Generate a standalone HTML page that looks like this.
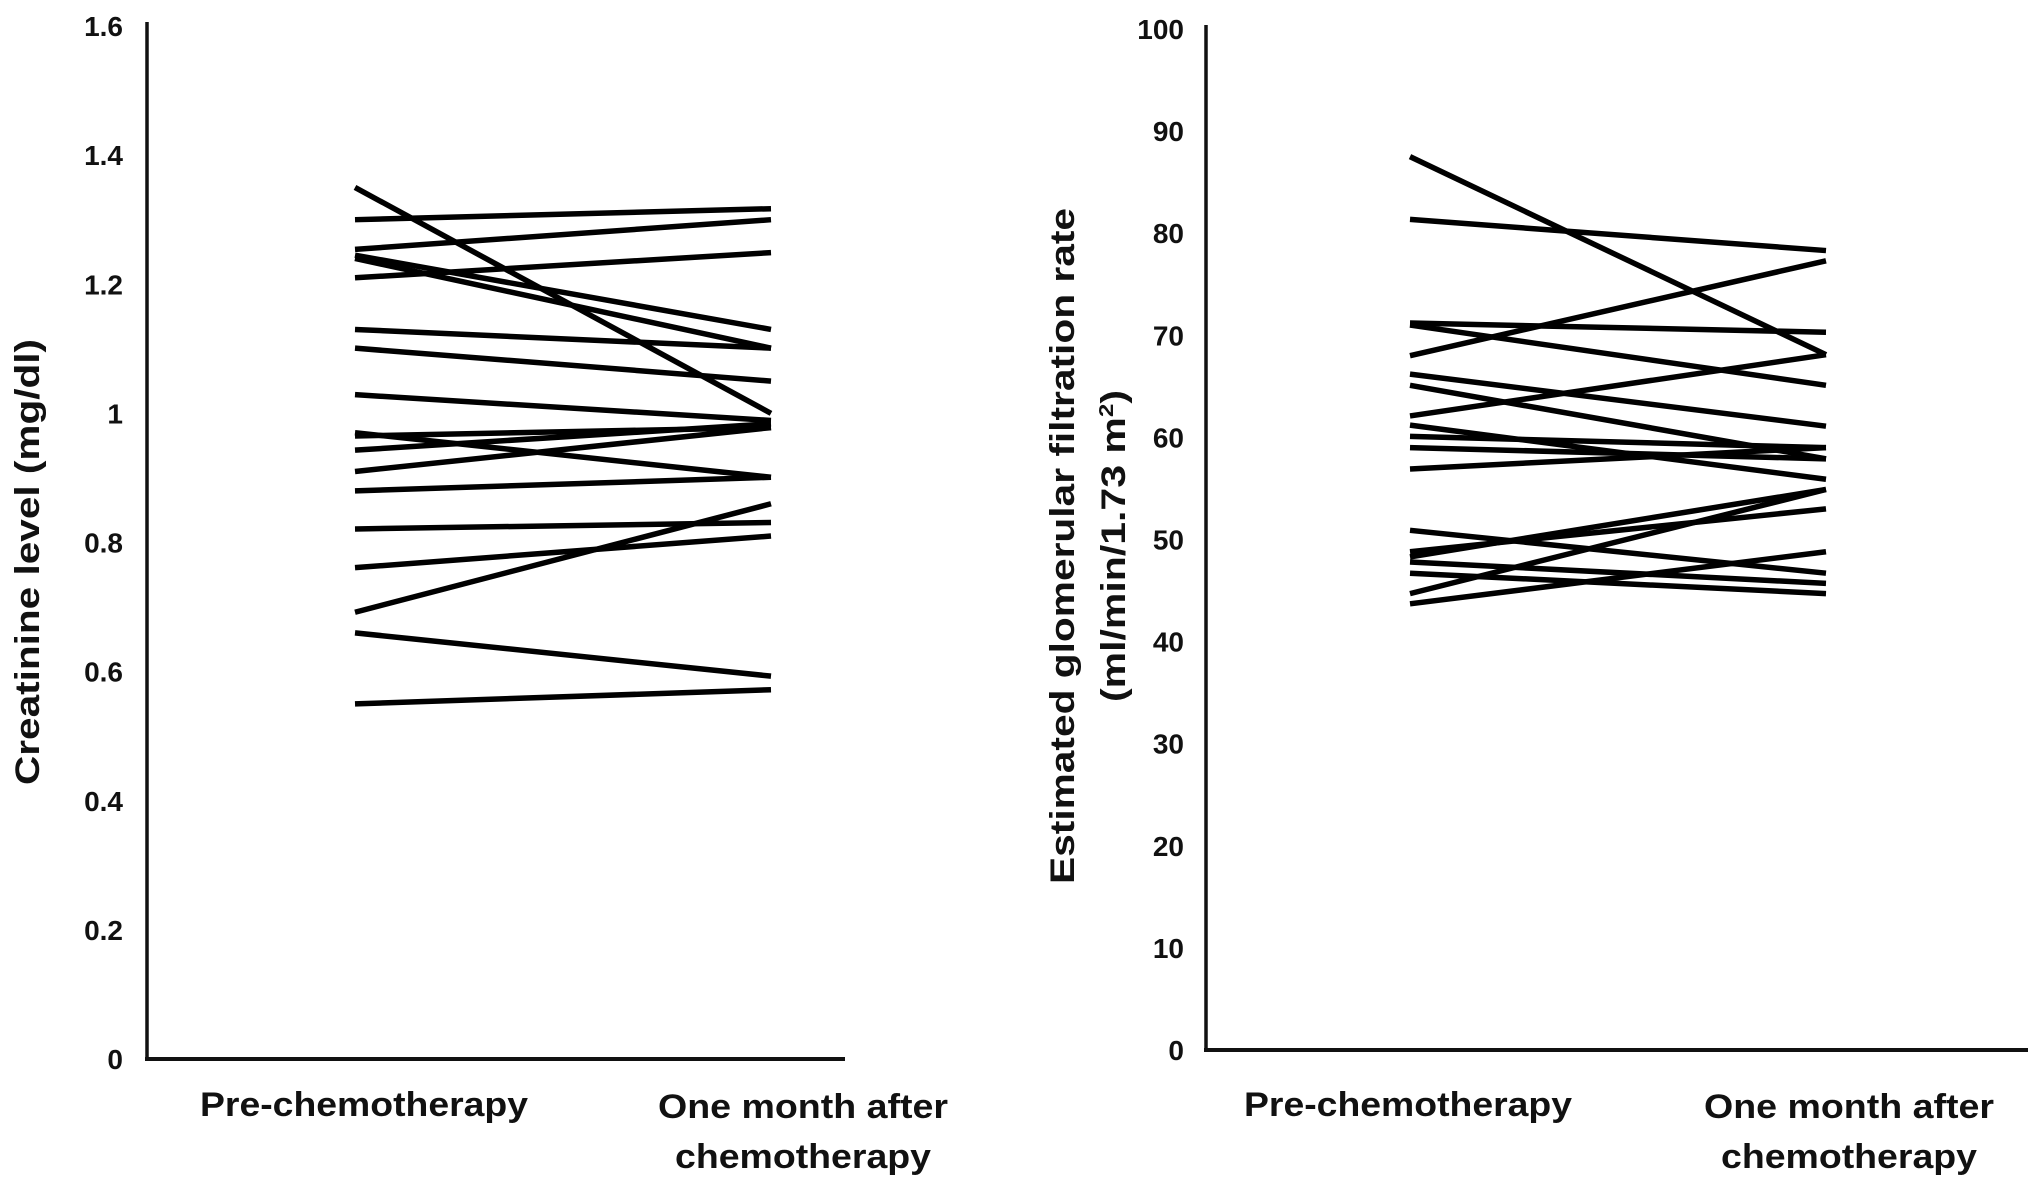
<!DOCTYPE html>
<html><head><meta charset="utf-8"><style>
html,body{margin:0;padding:0;background:#fff}
svg{display:block}
text{font-family:"Liberation Sans",Arial,sans-serif;font-weight:bold;fill:#111}
</style></head><body>
<svg id="chart" width="2031" height="1181" viewBox="0 0 2031 1181" xmlns="http://www.w3.org/2000/svg">
<g id="left"></g>
<g id="right"></g>
</svg>
<script>
const categories = ["Pre-chemotherapy", "One month after chemotherapy"];
const creatPre  = [1.35,1.30,1.254,1.21,1.245,1.24,1.13,1.101,1.029,0.97,0.965,0.943,0.91,0.88,0.821,0.761,0.692,0.66,0.55];
const creatPost = [1.00,1.317,1.30,1.249,1.13,1.101,1.101,1.05,0.989,0.901,0.978,0.984,0.978,0.901,0.831,0.81,0.86,0.593,0.572];
const creatTicks = ["0","0.2","0.4","0.6","0.8","1","1.2","1.4","1.6"];
const egfrPre  = [87.5,81.35,68.0,71.2,71.0,66.2,65.1,62.1,61.2,60.1,59.0,56.9,50.9,48.8,48.3,47.8,46.7,44.7,43.7];
const egfrPost = [68.1,78.3,77.3,70.3,65.1,61.1,57.9,68.1,55.9,59.0,57.9,59.0,46.7,53.0,54.9,45.7,44.7,54.9,48.8];
const egfrTicks = ["0","10","20","30","40","50","60","70","80","90","100"];

const NS="http://www.w3.org/2000/svg";
function mk(parent,tag,attrs,txt){const e=document.createElementNS(NS,tag);for(const k in attrs)e.setAttribute(k,attrs[k]);if(txt!==undefined)e.textContent=txt;parent.appendChild(e);return e;}

function panel(g,cfg){
  const yScale=v=>cfg.y0-(v-cfg.min)/(cfg.max-cfg.min)*(cfg.y0-cfg.y1);
  const xScale=i=>cfg.xs[i];
  for(let i=0;i<cfg.pre.length;i++){
    const l=mk(g,'line',{x1:xScale(0),y1:yScale(cfg.pre[i]),x2:xScale(1),y2:yScale(cfg.post[i]),stroke:'#000','stroke-width':5.5,'stroke-linecap':'butt'});
    
    
  }
  const ya=mk(g,'line',{x1:cfg.ax,y1:cfg.y1-4,x2:cfg.ax,y2:cfg.y0+2,stroke:'#111','stroke-width':3.5});
  
  
  const xa=mk(g,'line',{x1:cfg.ax-2,y1:cfg.y0,x2:cfg.axEnd,y2:cfg.y0,stroke:'#111','stroke-width':4});
  
  
  cfg.ticks.forEach((t,i)=>{
    const v=cfg.min+i*(cfg.max-cfg.min)/(cfg.ticks.length-1);
    const tx=mk(g,'text',{x:cfg.tickX,y:yScale(v)+10,'text-anchor':'end','font-size':28},t);
    
    
  });
  const c1=mk(g,'text',{x:cfg.lab[0],y:1116,'text-anchor':'middle','font-size':34,textLength:328,lengthAdjust:'spacingAndGlyphs'},categories[0]);
  
  
  const parts=categories[1].split(' ');
  const c2=mk(g,'text',{x:cfg.lab[1],y:1118,'text-anchor':'middle','font-size':34,textLength:290,lengthAdjust:'spacingAndGlyphs'},parts.slice(0,3).join(' '));
  
  
  const c3=mk(g,'text',{x:cfg.lab[1],y:1168,'text-anchor':'middle','font-size':34,textLength:256,lengthAdjust:'spacingAndGlyphs'},parts[3]);
  
  
}

const L=document.getElementById('left');
panel(L,{pre:creatPre,post:creatPost,ticks:creatTicks,min:0,max:1.6,y0:1059,y1:26,ax:147,axEnd:845,xs:[355,771],tickX:123,lab:[364,803]});
const R=document.getElementById('right');
panel(R,{pre:egfrPre,post:egfrPost,ticks:egfrTicks,min:0,max:100,y0:1050,y1:29,ax:1206,axEnd:2028,xs:[1410,1826],tickX:1184,lab:[1408,1849]});

const t1=mk(L,'text',{x:0,y:0,transform:'translate(39,562) rotate(-90)','text-anchor':'middle','font-size':34,textLength:446,lengthAdjust:'spacingAndGlyphs'},'Creatinine level (mg/dl)');


const t2=mk(R,'text',{x:0,y:0,transform:'translate(1074,546) rotate(-90)','text-anchor':'middle','font-size':34,textLength:676,lengthAdjust:'spacingAndGlyphs'},'Estimated glomerular filtration rate');


const t3=mk(R,'text',{x:0,y:0,transform:'translate(1125,546) rotate(-90)','text-anchor':'middle','font-size':34,textLength:312,lengthAdjust:'spacingAndGlyphs'});


t3.appendChild(document.createTextNode('(ml/min/1.73 m'));
mk(t3,'tspan',{'font-size':20,dy:-12},'2');
mk(t3,'tspan',{dy:12},')');
</script>
</body></html>
